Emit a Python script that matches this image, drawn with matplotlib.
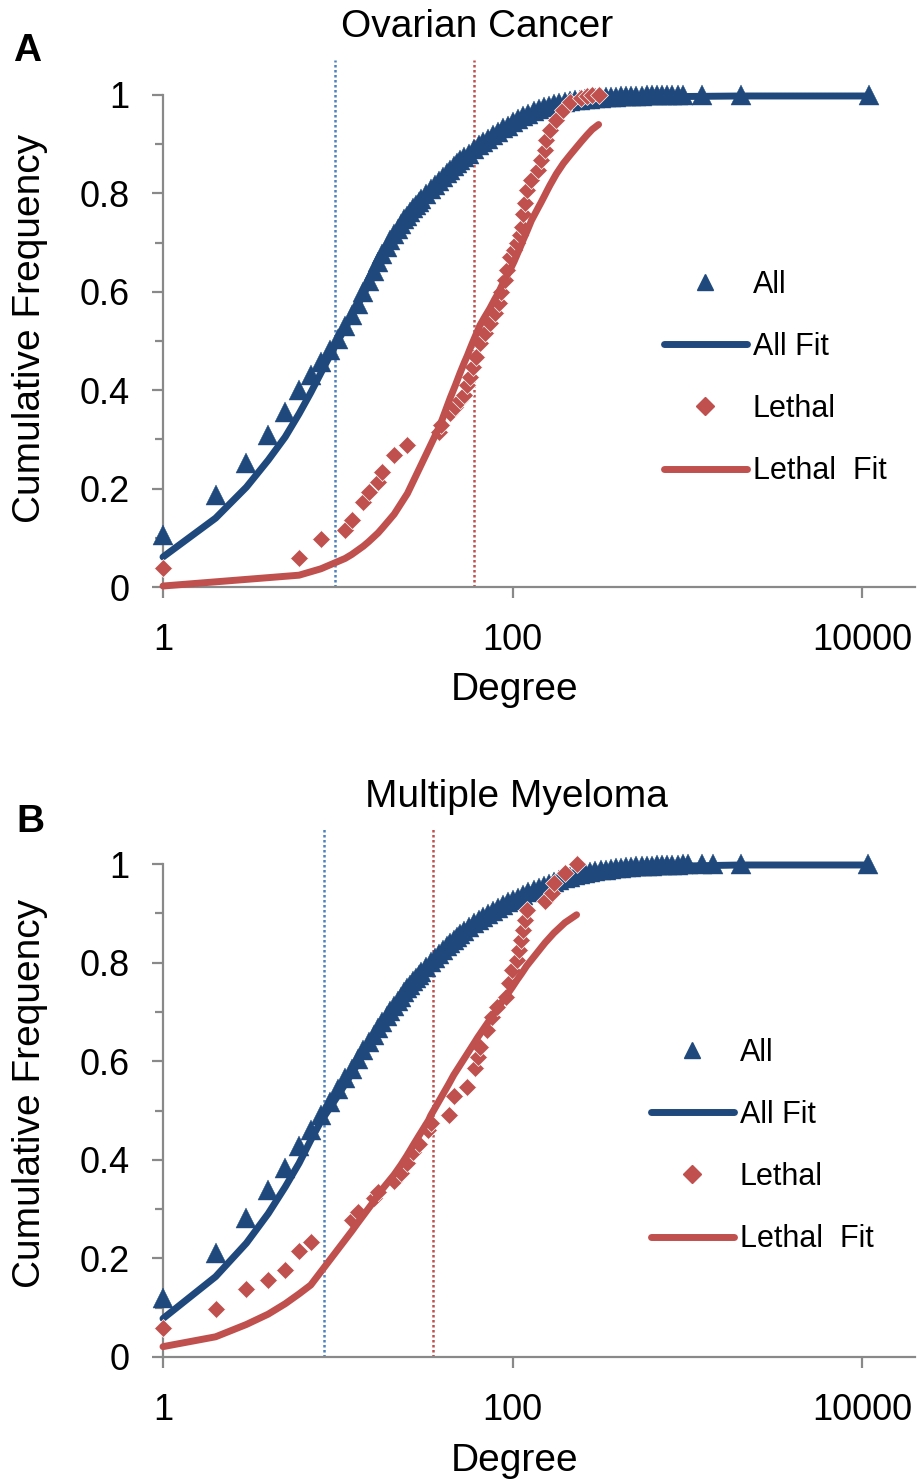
import matplotlib
matplotlib.use("Agg")
import matplotlib.pyplot as plt
from matplotlib.lines import Line2D
from matplotlib.ticker import FixedLocator, MultipleLocator, NullLocator

plt.rcParams['font.family'] = ['Liberation Sans', 'DejaVu Sans']

BLUE = "#1F497D"
RED = "#C0504D"
BLUE_DOT = "#4F81BD"
AXIS_GRAY = "#898989"

# ---- panel A : Ovarian Cancer ----
a_all_deg = [1, 2, 3, 4, 5, 6, 7, 8, 9, 10, 11, 12, 13, 14, 15, 16, 17, 18, 19, 20,
             21, 22, 23, 24, 25, 26, 27, 28, 29, 30, 32, 34, 36, 38, 40, 42, 44, 46, 48, 50,
             53, 56, 60, 64, 68, 72, 77, 82, 88, 94, 100, 107, 115, 123, 132, 141, 151, 162,
             173, 185, 198, 212, 227, 243, 260, 278, 297, 318, 340, 364, 390, 417, 446, 477,
             510, 546, 584, 625, 669, 716, 766, 820, 877, 940, 1215, 2030, 10970]
a_all_cdf = [.106, .187, .252, .309, .356, .400, .431, .457, .482, .505, .53, .553, .575, .60, .622,
             .642, .66, .677, .692, .705, .717, .728, .738, .747, .755, .763, .77, .777, .783, .789,
             .799, .809, .818, .826, .834, .841, .848, .855, .861, .867, .874, .881, .89, .898, .905,
             .911, .918, .925, .932, .938, .945, .951, .957, .962, .967, .971, .975, .978, .981,
             .983, .985, .987, .989, .99, .991, .992, .993, .994, .995, .996, .996, .997, .997,
             .998, .998, .998, .999, .999, .999, .999, .999, .999, .999, 1.0, 1.0, 1.0, 1.0]
a_fit_deg = [1, 2, 3, 4, 5, 6, 7, 8, 9, 10, 12, 15, 20, 25, 30, 40, 50, 70, 100, 150, 200,
             300, 500, 1000, 2000, 10970]
a_fit_cdf = [.061, .14, .203, .258, .305, .352, .395, .435, .47, .50, .55, .615, .695, .748, .785,
             .83, .862, .905, .942, .97, .982, .99, .995, .997, .998, .998]
a_leth_deg = [1, 6, 8, 11, 12, 14, 15, 17, 18, 21, 25, 38, 39, 44, 47, 50, 53, 55, 57, 59,
              62, 65, 69, 74, 79, 83, 86, 90, 93, 97, 102, 106, 110, 113, 115, 118, 121, 128, 140, 145,
              153, 156, 163, 178, 195, 213, 245, 265, 285, 310]
a_leth_cdf = [.039, .059, .098, .116, .136, .173, .194, .214, .234, .268, .289, .316, .329, .353, .366,
              .38, .39, .41, .427, .447, .468, .496, .516, .537, .557, .577, .60, .625, .644, .671,
              .685, .699, .715, .732, .759, .78, .807, .827, .848, .868, .888, .909, .929, .949, .97,
              .986, .994, .997, 1.0, 1.0]
a_leth_fit = [.002, .024, .037, .058, .066, .083, .092, .11, .12, .148, .19, .325, .335, .385, .41,
              .435, .457, .47, .484, .497, .515, .532, .548, .566, .585, .598, .61, .624, .634, .646,
              .662, .676, .689, .699, .706, .715, .724, .745, .771, .781, .797, .803, .816, .84, .861,
              .878, .904, .918, .93, .94]
a_medians = [9.64, 60.2]

# ---- panel B : Multiple Myeloma ----
b_all_deg = [1, 2, 3, 4, 5, 6, 7, 8, 9, 10, 11, 12, 13, 14, 15, 16, 17, 18, 19, 20,
             21, 22, 23, 24, 25, 26, 27, 28, 29, 30, 32, 34, 36, 38, 40, 42, 44, 46, 48, 50,
             53, 56, 60, 64, 68, 72, 77, 82, 88, 94, 100, 107, 115, 123, 132, 141, 151, 162,
             173, 185, 198, 212, 227, 243, 260, 278, 297, 318, 340, 364, 390, 417, 446, 477,
             510, 546, 584, 625, 669, 716, 766, 820, 885, 940, 1000, 1215, 1403, 2030, 10820]
b_all_cdf = [.119, .21, .281, .339, .383, .427, .46, .491, .517, .543, .565, .585, .604, .622, .638,
             .653, .667, .679, .691, .702, .712, .722, .731, .74, .748, .755, .762, .769, .775, .781,
             .792, .801, .81, .818, .826, .833, .84, .846, .852, .858, .865, .872, .88, .886, .892,
             .898, .904, .91, .916, .922, .927, .932, .938, .943, .948, .952, .956, .96, .964,
             .968, .971, .974, .977, .979, .981, .983, .985, .987, .988, .99, .991, .992, .993,
             .994, .995, .995, .996, .996, .997, .997, .998, .998, .998, .999, .999, .999, .999,
             1.0, 1.0]
b_fit_deg = [1, 2, 3, 4, 5, 6, 7, 8, 9, 10, 12, 15, 20, 25, 30, 40, 50, 70, 100, 150, 200,
             300, 500, 1000, 2000, 10820]
b_fit_cdf = [.078, .163, .231, .291, .345, .393, .44, .478, .505, .53, .575, .63, .695, .745, .78,
             .823, .85, .89, .923, .955, .97, .985, .993, .996, .998, .998]
b_leth_deg = [1, 2, 3, 4, 5, 6, 7, 12, 13, 16, 17, 21, 23, 25, 27, 29, 33, 34, 43, 46,
              55, 61, 63, 65, 71, 76, 81, 92, 95, 99, 106, 108, 112, 115, 117, 120, 153, 168, 172,
              199, 232]
b_leth_cdf = [.058, .097, .137, .156, .176, .214, .234, .278, .295, .322, .335, .356, .373, .393, .416,
              .433, .46, .474, .491, .529, .548, .587, .609, .629, .663, .69, .71, .731, .758, .785,
              .805, .826, .846, .866, .886, .907, .924, .942, .962, .981, 1.0]
b_leth_fit = [.021, .041, .066, .087, .108, .128, .146, .255, .272, .315, .33, .37, .39, .41, .43,
              .448, .48, .49, .553, .572, .615, .64, .648, .655, .675, .69, .705, .733, .74, .749,
              .765, .769, .777, .783, .787, .793, .84, .856, .86, .881, .897]
b_medians = [8.38, 34.9]

legend_labels = ["All", "All Fit", "Lethal", "Lethal  Fit"]
x_ticks = [1, 100, 10000]
x_ticklabels = ["1", "100", "10000"]
y_ticks = [0, 0.2, 0.4, 0.6, 0.8, 1.0]
y_ticklabels = ["0", "0.2", "0.4", "0.6", "0.8", "1"]

W, H = 921, 1481


def fx(px):
    return px / W


def fy(py):
    return 1 - py / H


def draw_panel(ax, all_deg, all_cdf, fit_deg, fit_cdf, leth_deg, leth_cdf, leth_fit, medians):
    ax.plot(all_deg, all_cdf, linestyle="none", marker="^", ms=15, color=BLUE,
            mec=BLUE, mew=0.3, clip_on=False, zorder=3)
    ax.plot(fit_deg, fit_cdf, color=BLUE, lw=5, solid_capstyle="round",
            clip_on=False, zorder=4)
    ax.plot(leth_deg, leth_cdf, linestyle="none", marker="D", ms=9, color=RED,
            mec="white", mew=0.5, clip_on=False, zorder=5)
    ax.plot(leth_deg, leth_fit, color=RED, lw=5, solid_capstyle="round",
            clip_on=False, zorder=6)
    ax.vlines(medians[0], 0, 1.072, colors=BLUE_DOT, lw=1.8,
              linestyles=(0, (1, 1)), clip_on=False, zorder=2)
    ax.vlines(medians[1], 0, 1.072, colors=RED, lw=1.8,
              linestyles=(0, (1, 1)), clip_on=False, zorder=2)

    ax.set_xscale("log")
    ax.set_xlim(1, 20000)
    ax.set_ylim(0, 1)
    for side in ["top", "right"]:
        ax.spines[side].set_visible(False)
    for side in ["left", "bottom"]:
        ax.spines[side].set_color(AXIS_GRAY)
        ax.spines[side].set_linewidth(1.6)
    ax.xaxis.set_major_locator(FixedLocator(x_ticks))
    ax.xaxis.set_minor_locator(NullLocator())
    ax.set_xticklabels(x_ticklabels)
    ax.yaxis.set_major_locator(FixedLocator(y_ticks))
    ax.yaxis.set_minor_locator(MultipleLocator(0.1))
    ax.set_yticklabels(y_ticklabels)
    ax.tick_params(axis="both", which="major", direction="out", length=8, width=1.6,
                   color=AXIS_GRAY, labelsize=26)
    ax.tick_params(axis="y", which="minor", direction="out", length=6, width=1.6,
                   color=AXIS_GRAY)
    ax.tick_params(axis="x", pad=18)
    ax.tick_params(axis="y", pad=16)


def add_legend(fig, left_px, top_px):
    handles = [
        Line2D([], [], linestyle="none", marker="^", ms=12, color=BLUE),
        Line2D([], [], color=BLUE, lw=5, solid_capstyle="round"),
        Line2D([], [], linestyle="none", marker="D", ms=9, color=RED),
        Line2D([], [], color=RED, lw=5, solid_capstyle="round"),
    ]
    fig.legend(handles, legend_labels, loc="upper left",
               bbox_to_anchor=(fx(left_px), fy(top_px)), bbox_transform=fig.transFigure,
               frameon=False, fontsize=22, handlelength=2.7, handletextpad=0.2,
               labelspacing=1.05, borderpad=0, borderaxespad=0)


fig = plt.figure(figsize=(W / 100, H / 100), dpi=100)
ax_a = fig.add_axes([fx(163), fy(587), fx(915) - fx(163), (587 - 95) / H])
ax_b = fig.add_axes([fx(163), fy(1357), fx(915) - fx(163), (1357 - 864) / H])

draw_panel(ax_a, a_all_deg, a_all_cdf, a_fit_deg, a_fit_cdf,
           a_leth_deg, a_leth_cdf, a_leth_fit, a_medians)
draw_panel(ax_b, b_all_deg, b_all_cdf, b_fit_deg, b_fit_cdf,
           b_leth_deg, b_leth_cdf, b_leth_fit, b_medians)

add_legend(fig, 664, 270)
add_legend(fig, 651, 1038)

# titles, axis labels, panel letters
fig.text(fx(477), fy(27), "Ovarian Cancer", fontsize=28, ha="center", va="center")
fig.text(fx(516), fy(797), "Multiple Myeloma", fontsize=28, ha="center", va="center")
fig.text(fx(515), fy(690), "Degree", fontsize=28, ha="center", va="center")
fig.text(fx(515), fy(1461), "Degree", fontsize=28, ha="center", va="center")
fig.text(fx(30), fy(328), "Cumulative Frequency", fontsize=28, rotation=90,
         ha="center", va="center")
fig.text(fx(30), fy(1093), "Cumulative Frequency", fontsize=28, rotation=90,
         ha="center", va="center")
fig.text(fx(13), fy(51), "A", fontsize=28, fontweight="bold", ha="left", va="center")
fig.text(fx(16), fy(822), "B", fontsize=28, fontweight="bold", ha="left", va="center")

fig.savefig("out.png", dpi=100)
